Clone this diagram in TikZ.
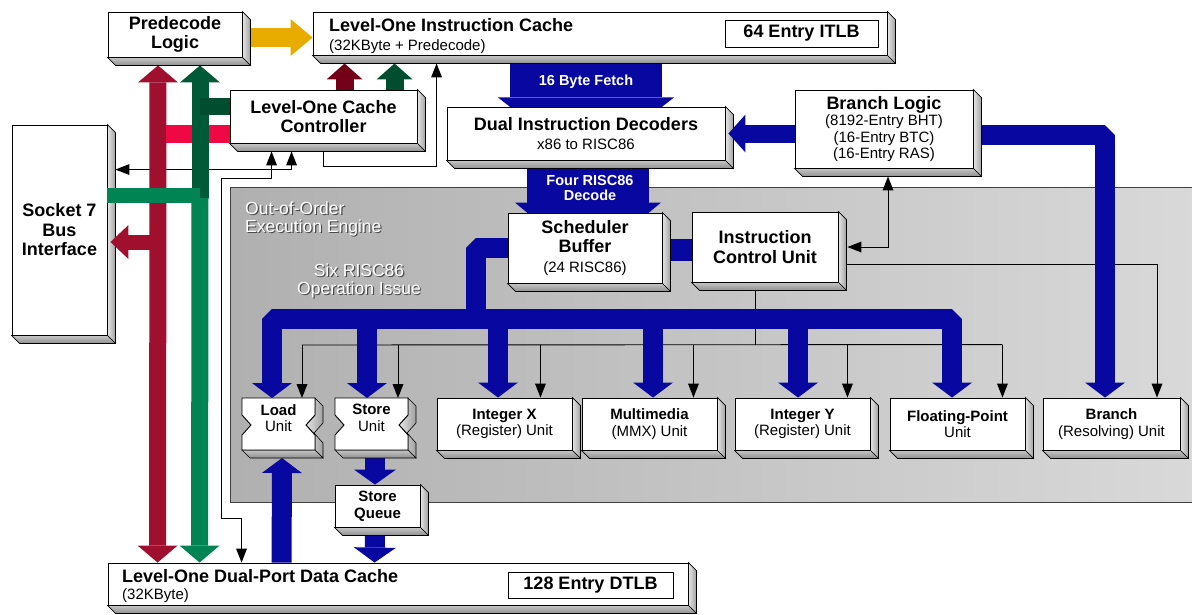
\documentclass[tikz,border=0pt]{standalone}
\usepackage{fontspec}
\setmainfont{Liberation Sans}
\usetikzlibrary{arrows.meta,calc}
\pgfdeclarelayer{bg}
\pgfdeclarelayer{mid}
\pgfsetlayers{bg,mid,main}
\definecolor{dred}{RGB}{160,16,46}
\definecolor{pinkbar}{RGB}{240,8,68}
\definecolor{dgreen}{RGB}{0,132,84}
\definecolor{dgreentop}{RGB}{0,90,56}
\definecolor{ddred}{RGB}{115,0,22}
\definecolor{ddgreen}{RGB}{0,78,48}
\definecolor{bblue}{RGB}{8,8,160}
\definecolor{yel}{RGB}{232,172,0}
\newcommand\bigtxt{\fontsize{18}{19.5}\selectfont\bfseries}
\newcommand\smtxt{\fontsize{15}{16.5}\selectfont}
\newcommand\unittxt{\fontsize{15}{16.5}\selectfont}
\newcommand\embtxt{\fontsize{17.5}{18.5}\selectfont}
\newcommand\arrtxt{\fontsize{14.5}{15.5}\selectfont\bfseries}
\newcommand\bevel[1]{%
  \shadedraw[left color=gray!20, right color=gray!75, draw=black, line width=0.6pt]
    (#1.north east) -- ($(#1.north east)+(8,8)$) -- ($(#1.south east)+(8,8)$) -- (#1.south east) -- cycle;
  \shadedraw[top color=gray!45, bottom color=gray!88, draw=black, line width=0.6pt]
    (#1.south west) -- (#1.south east) -- ($(#1.south east)+(8,8)$) -- ($(#1.south west)+(8,8)$) -- cycle;}
\newcommand\notchunit[7]{%
  \shadedraw[left color=gray!20, right color=gray!75, draw=black, line width=0.6pt]
    (#4,#3) -- ({#4+8},{#3+8}) -- ({#4+8},{#3+25}) -- ({#4-1},{#3+35}) -- ({#4+8},{#3+45})
    -- ({#4+8},{#5+8}) -- (#4,#5) -- (#4,{#3+37}) -- ({#4-9},{#3+27}) -- (#4,{#3+17}) -- cycle;
  \shadedraw[top color=gray!45, bottom color=gray!88, draw=black, line width=0.6pt]
    (#2,#5) -- (#4,#5) -- ({#4+8},{#5+8}) -- ({#2+8},{#5+8}) -- cycle;
  \filldraw[fill=white, draw=black, line width=0.9pt]
    (#2,#3) -- (#4,#3) -- (#4,{#3+17}) -- ({#4-9},{#3+27}) -- (#4,{#3+37}) -- (#4,#5)
    -- (#2,#5) -- (#2,{#3+37}) -- ({#2+9},{#3+27}) -- (#2,{#3+17}) -- cycle;
  \pgfmathsetmacro\nw{#4-#2}\pgfmathsetmacro\nh{#5-#3}%
  \node[inner sep=0pt, outer sep=0pt, minimum width=\nw pt, minimum height=\nh pt] (#1) at ({(#2+#4)/2},{(#3+#5)/2}) {};
  \node[font=\unittxt, align=center, inner sep=0pt] (#1txt) at ({(#2+#4)/2},{(#3+#5)/2-6}) {\textbf{#6}\\#7};}
\tikzset{
  box/.style={draw=black, line width=0.9pt, fill=white, inner sep=0pt, align=center, font=\bigtxt},
  unit/.style={box, font=\unittxt},
  tl/.style={line width=0.9pt, draw=black},
  tipS/.tip={Triangle[width=11pt,length=14pt,line width=0pt]},
  tipL/.tip={Triangle[width=40pt,length=15pt,line width=0pt]},
  tipQ/.tip={Triangle[width=42pt,length=15pt,line width=0pt]},
  tipRG/.tip={Triangle[width=40pt,length=17pt,line width=0pt]},
  tipM/.tip={Triangle[width=36pt,length=16pt,line width=0pt]},
  tipY/.tip={Triangle[width=37pt,length=22pt,line width=0pt]},
  tipSock/.tip={Triangle[width=34pt,length=18pt,line width=0pt]},
  tipBD/.tip={Triangle[width=38pt,length=17pt,line width=0pt]},
  tipFetch/.tip={Triangle[width=176pt,length=69pt,line width=0pt]},
  tipDec/.tip={Triangle[width=146pt,length=61pt,line width=0pt]},
  ta/.style={tl, -tipS},
  tab/.style={tl, tipS-tipS},
  fat/.style={line width=#1, line join=bevel},
}
\begin{document}
\begin{tikzpicture}[x=1pt,y=-1pt]
\useasboundingbox (0,0) rectangle (1192,614);
\begin{pgfonlayer}{bg}
  \fill[white] (0,0) rectangle (1192,614);
  \shade[left color=gray!62, right color=gray!30] (230,187) rectangle (1192,502);
  \draw[black!75, line width=1pt] (1192,187) -- (230,187) -- (230,502) -- (1192,502);
  \node[font=\embtxt, text=black!70, align=left, anchor=west, inner sep=0pt] (engs) at (246.2,220.2) {Out-of-Order\\Execution Engine};
  \node[font=\embtxt, text=white, align=left, anchor=west, inner sep=0pt] (eng) at (245,219) {Out-of-Order\\Execution Engine};
  \node[font=\embtxt, text=black!70, align=center, inner sep=0pt] (issues) at (360.2,282.2) {Six RISC86\\Operation Issue};
  \node[font=\embtxt, text=white, align=center, inner sep=0pt] (issue) at (359,281) {Six RISC86\\Operation Issue};
\end{pgfonlayer}

% ---------- boxes ----------
\node[box, minimum width=134pt, minimum height=45pt] (pre) at (175,34.5) {Predecode\\Logic};
\bevel{pre}
\node[box, minimum width=574pt, minimum height=43pt] (icache) at (600,33.5) {};
\bevel{icache}
\node[anchor=base west, font=\bigtxt, inner sep=0pt] (ictitle) at (329,31) {Level-One Instruction Cache};
\node[anchor=base west, font=\smtxt, inner sep=0pt] (icsub) at (329,50) {(32KByte + Predecode)};
\node[draw, line width=1pt, fill=white, minimum width=153pt, minimum height=27pt, inner sep=0pt, font=\bigtxt] (itlb) at (801.5,33.5) {64 Entry ITLB};
\node[box, minimum width=187pt, minimum height=53pt] (ctrl) at (323.5,116.5) {Level-One Cache\\Controller};
\bevel{ctrl}
\node[box, minimum width=278pt, minimum height=53pt] (dec) at (586,133.5) {Dual Instruction Decoders\\{\smtxt\mdseries x86 to RISC86}};
\bevel{dec}
\node[box, font=\smtxt, minimum width=178pt, minimum height=78pt] (bl) at (884,129) {{\bigtxt Branch Logic}\\(8192-Entry BHT)\\(16-Entry BTC)\\(16-Entry RAS)};
\bevel{bl}
\node[box, minimum width=95pt, minimum height=210pt] (socket) at (59.5,230) {Socket 7\\Bus\\Interface};
\bevel{socket}
\node[box, minimum width=154pt, minimum height=70pt] (sched) at (585,248) {Scheduler\\Buffer\\{\smtxt\mdseries (24 RISC86)}};
\bevel{sched}
\node[box, minimum width=146pt, minimum height=70pt] (icu) at (765,247) {Instruction\\Control Unit};
\bevel{icu}
\notchunit{load}{242}{398}{315}{450}{Load}{Unit}
\notchunit{store}{335}{398}{408}{450}{Store}{Unit}
\node[unit, minimum width=135pt, minimum height=52pt] (intx) at (504.5,424) {\textbf{Integer X}\\(Register) Unit};
\bevel{intx}
\node[unit, minimum width=135pt, minimum height=52pt] (mmx) at (649.5,424) {\textbf{Multimedia}\\(MMX) Unit};
\bevel{mmx}
\node[unit, minimum width=135pt, minimum height=52pt] (inty) at (802.5,424) {\textbf{Integer Y}\\(Register) Unit};
\bevel{inty}
\node[unit, minimum width=135pt, minimum height=52pt] (fp) at (957.5,424) {\textbf{Floating-Point}\\Unit};
\bevel{fp}
\node[unit, minimum width=137pt, minimum height=52pt] (bru) at (1111.5,424) {\textbf{Branch}\\(Resolving) Unit};
\bevel{bru}
\node[box, font=\unittxt\bfseries, minimum width=85pt, minimum height=42pt] (queue) at (377.5,506) {Store\\Queue};
\bevel{queue}
\node[box, minimum width=580pt, minimum height=42pt] (dcache) at (398,584) {};
\bevel{dcache}
\node[anchor=base west, font=\bigtxt, inner sep=0pt] (dctitle) at (122,582) {Level-One Dual-Port Data Cache};
\node[anchor=base west, font=\smtxt, inner sep=0pt] (dcsub) at (122,599) {(32KByte)};
\node[draw, line width=1pt, fill=white, minimum width=165pt, minimum height=26pt, inner sep=0pt, font=\bigtxt] (dtlb) at (590.5,585) {128 Entry DTLB};

% ---------- connectors under the boxes ----------
\begin{pgfonlayer}{mid}
  % thin control lines
  \draw[ta] ($(ctrl.south)+(0,8)$) -- ++(0,15) -| ($(icache.south west)+(124,8)$);
  \draw[tab] ($(ctrl.south west)+(62,8)$) |- ($(socket.north east)+(8,45)$);
  \draw[tab] ($(ctrl.south west)+(42,8)$) -- ++(0,27) -- ++(-50,0) -- ++(0,340) -- ++(20,0) -- ($(dcache.north west)+(134,0)$);
  \draw[tab] ($(bl.south)+(4,8)$) |- ($(icu.east)+(9,0)$);
  \draw[ta] ($(icu.east)+(8,17)$) -| ($(bru.north)+(45.5,0)$);
  \coordinate (hub) at ($(icu.south)+(-10,63)$);
  \draw[tl] ($(icu.south)+(-10,8)$) -- (hub);
  \draw[tl] ($(load.north east)+(-13,-53)$) -- ($(fp.north east)+(-23,-53)$);
  \foreach \u/\dx in {load/-13, store/-10, intx/-32, mmx/-24, inty/-23, fp/-23}
    \draw[ta] ($(\u.north east)+(\dx,-53)$) -- ($(\u.north east)+(\dx,0)$);

  % red / green buses
  \draw[fat=17pt, draw=dred, tipRG-tipRG] ($(pre.south)+(-17,8)$) -- ($(dcache.north west)+(50,0)$);
  \draw[fat=18pt, draw=pinkbar] ($(ctrl.west)+(-64,17.5)$) -- ($(ctrl.west)+(0,17.5)$);
  \draw[fat=17pt, draw=dgreen, -tipRG] ($(pre.south)+(25,140)$) -- ($(dcache.north west)+(92,0)$);
  \draw[fat=17pt, draw=dgreentop, tipRG-] ($(pre.south)+(25,8)$) -- ($(pre.south)+(25,141)$);
  \draw[fat=17pt, draw=ddgreen] ($(ctrl.west)+(-30,-10)$) -- ($(ctrl.west)+(0,-10)$);
  \draw[fat=18pt, draw=ddred, -tipM] ($(ctrl.north west)+(115,0)$) -- ($(icache.south west)+(32,8)$);
  \draw[fat=18pt, draw=ddgreen, -tipM] ($(ctrl.north west)+(165,0)$) -- ($(icache.south west)+(82,8)$);
  \draw[fat=19pt, draw=yel, -tipY] ($(pre.east)+(8,3)$) -- ($(icache.west)+(0,4)$);

  % blue data paths
  \draw[fat=152pt, draw=bblue, -tipFetch] (dec.north |- icache.south) -- ($(dec.south)+(0,6)$);
  \draw[fat=122pt, draw=bblue, -tipDec] ($(dec.south)+(2,8)$) -- ($(sched.north)+(3,51)$);
  \draw[fat=20pt, draw=bblue, -tipL] ($(bl.east)+(8,6)$) -| ($(bru.north)+(-6.5,0)$);
  \draw[fat=22pt, draw=bblue] ($(sched.east)+(8,2)$) -- ($(icu.west)+(0,3)$);
  \draw[fat=20pt, draw=bblue] (sched.west) -| ($(sched.west)+(-32,72)$);
  \draw[fat=20pt, draw=bblue, tipL-tipL] ($(load.north)+(-6.5,0)$) |- ($(fp.north)+(-5.5,-79)$) -- ($(fp.north)+(-5.5,0)$);
  \foreach \u/\dx in {store/-4.5, intx/-6.5, mmx/3.5, inty/-4.5}
    \draw[fat=20pt, draw=bblue, -tipL] ($(\u.north)+(\dx,-80)$) -- ($(\u.north)+(\dx,0)$);
  \draw[fat=20pt, draw=bblue, -tipL] ($(dcache.north west)+(174,0)$) -- ($(load.south)+(3.5,8)$);
  \draw[fat=20pt, draw=bblue, -tipQ] ($(store.south)+(3.5,8)$) -- ($(queue.north)+(-2.5,0)$);
  \draw[fat=20pt, draw=bblue, -tipQ] ($(queue.south)+(-2.5,8)$) -- ($(dcache.north west)+(267,0)$);
\end{pgfonlayer}

% ---------- connectors on top ----------
\draw[fat=18pt, draw=bblue, -tipBD] (bl.west |- dec.east) -- ($(dec.east)+(3,0)$);
\draw[fat=15pt, draw=dgreen] ($(socket.north east)+(93,71)$) -- ($(socket.north east)+(0,71)$);
\draw[fat=15pt, draw=dred, -tipSock] ($(socket.east)+(51,12)$) -- ($(socket.east)+(3,12)$);
\node[font=\arrtxt, text=white, inner sep=0pt] (fetchtxt) at (586,82) {16 Byte Fetch};
\node[font=\arrtxt, text=white, align=center, inner sep=0pt] (dectxt) at (590,188) {Four RISC86\\Decode};
\end{tikzpicture}
\end{document}
